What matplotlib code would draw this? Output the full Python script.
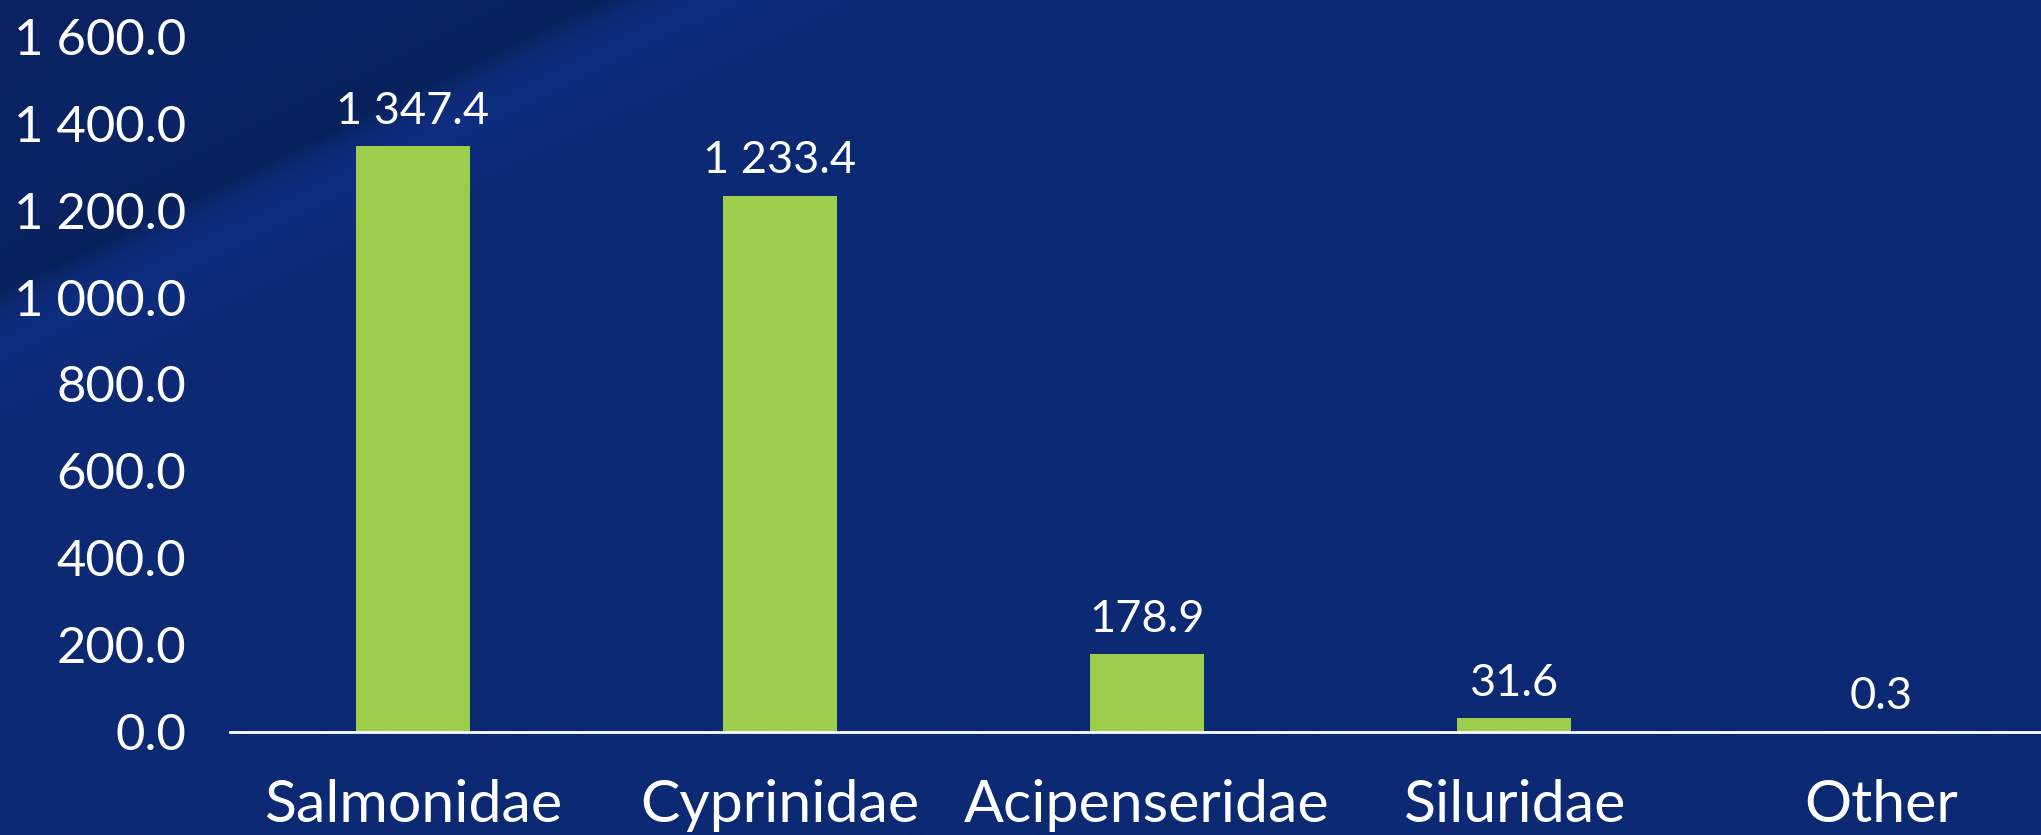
import numpy as np
import matplotlib
matplotlib.use("Agg")
import matplotlib.pyplot as plt
from matplotlib.colors import to_rgb

categories = ["Salmonidae", "Cyprinidae", "Acipenseridae", "Siluridae", "Other"]
values = [1347.4, 1233.4, 178.9, 31.6, 0.3]
value_labels = ["1 347.4", "1 233.4", "178.9", "31.6", "0.3"]
yticks = [0, 200, 400, 600, 800, 1000, 1200, 1400, 1600]
ytick_labels = ["0.0", "200.0", "400.0", "600.0", "800.0", "1 000.0", "1 200.0", "1 400.0", "1 600.0"]

BG = "#0C2973"
BAR = "#9CCD4C"
W, H = 2041, 835
plt.rcParams['font.family'] = ['Lato', 'DejaVu Sans']

fig = plt.figure(figsize=(W / 100, H / 100), dpi=100)
fig.patch.set_facecolor(BG)

# decorative background swoosh (top-left)
bg = fig.add_axes([0, 0, 1, 1], zorder=-10)
bg.set_axis_off()
yy, xx = np.mgrid[0:H:2, 0:W:2].astype(float)
s = xx / 690.0 + yy / 335.0
stops = [0.0, 0.6, 0.86, 0.93, 1.02, 1.3, 10]
cols = [to_rgb(c) for c in ["#0A2260", "#0B2465", "#09215C", "#0C2974", "#0F2E82", "#0C2973", "#0C2973"]]
img = np.zeros(s.shape + (3,))
for ch in range(3):
    img[..., ch] = np.interp(s, stops, [c[ch] for c in cols])
bg.imshow(img, extent=[0, W, H, 0], aspect="auto", interpolation="bilinear")
bg.set_xlim(0, W)
bg.set_ylim(H, 0)

left = 229.5 / W
bottom = 103.5 / H
top = 798.6 / H
ax = fig.add_axes([left, bottom, 1 - left, top - bottom])
ax.set_facecolor("none")

x = np.arange(len(categories))
ax.bar(x, values, width=0.31, color=BAR, zorder=2)
ax.set_xlim(-0.5, 4.436)
ax.set_ylim(0, 1600)

for xi, v, lab in zip(x, values, value_labels):
    ax.annotate(lab, (xi, v), xytext=(0, 16), textcoords="offset points",
                ha="center", va="baseline", color="white", fontsize=32.5)

ax.set_yticks(yticks)
ax.set_yticklabels(ytick_labels)
ax.set_xticks(x)
ax.set_xticklabels(categories)
ax.tick_params(axis="y", length=0, pad=31, labelsize=36.5, labelcolor="white")
ax.tick_params(axis="x", length=0, pad=34, labelsize=42.5, labelcolor="white")
for sp in ["top", "right", "left"]:
    ax.spines[sp].set_visible(False)
ax.spines["bottom"].set_color("white")
ax.spines["bottom"].set_linewidth(2)
ax.spines["bottom"].set_zorder(3)

fig.savefig("out.png", dpi=100, facecolor=BG)
